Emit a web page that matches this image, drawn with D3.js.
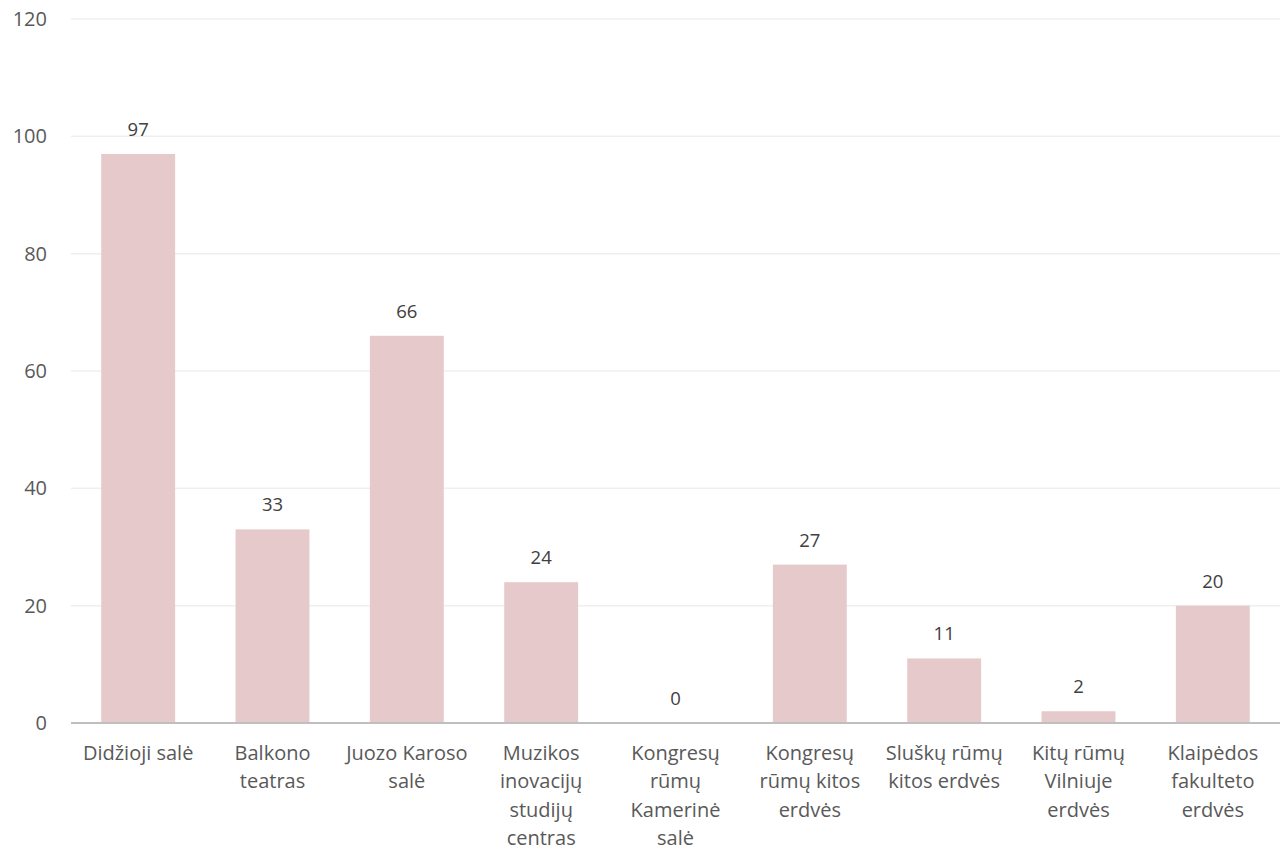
<!DOCTYPE html>
<html>
<head>
<meta charset="utf-8">
<script src="https://cdn.jsdelivr.net/npm/d3@7"></script>
<style>
  body { margin: 0; background: #fff; }
  text { font-family: "Open Sans", "Noto Sans", sans-serif; fill: #595959; }
</style>
</head>
<body>
<script>
const categories = ["Didžioji salė", "Balkono teatras", "Juozo Karoso salė", "Muzikos inovacijų studijų centras",
    "Kongresų rūmų Kamerinė salė", "Kongresų rūmų kitos erdvės", "Sluškų rūmų kitos erdvės",
    "Kitų rūmų Vilniuje erdvės", "Klaipėdos fakulteto erdvės"];
const tickLines = [
    ["Didžioji salė"],
    ["Balkono", "teatras"],
    ["Juozo Karoso", "salė"],
    ["Muzikos", "inovacijų", "studijų", "centras"],
    ["Kongresų", "rūmų", "Kamerinė", "salė"],
    ["Kongresų", "rūmų kitos", "erdvės"],
    ["Sluškų rūmų", "kitos erdvės"],
    ["Kitų rūmų", "Vilniuje", "erdvės"],
    ["Klaipėdos", "fakulteto", "erdvės"]
];
const values = [97, 33, 66, 24, 0, 27, 11, 2, 20];
const yTicks = [0, 20, 40, 60, 80, 100, 120];

const W = 1287, H = 852;
const margin = { top: 19, left: 71, right: 7, bottom: 129 };

const svg = d3.select("body").append("svg")
    .attr("width", W)
    .attr("height", H);

const x = d3.scaleBand()
    .domain(categories)
    .range([margin.left, W - margin.right])
    .paddingInner(0.45)
    .paddingOuter(0.225);

const y = d3.scaleLinear()
    .domain([0, 120])
    .range([H - margin.bottom, margin.top]);

// gridlines
svg.append("g")
    .selectAll("line")
    .data(yTicks.filter(d => d > 0))
    .enter().append("line")
    .attr("x1", margin.left)
    .attr("x2", W - margin.right)
    .attr("y1", d => y(d))
    .attr("y2", d => y(d))
    .style("stroke", "#efefef")
    .style("stroke-width", 1.5);

// y tick labels
const yAxis = svg.append("g")
    .attr("transform", "translate(" + (margin.left - 24) + ",0)")
    .call(d3.axisLeft(y).tickValues(yTicks).tickSize(0).tickPadding(0));
yAxis.select(".domain").remove();
yAxis.selectAll("text")
    .style("font-size", "20px")
    .style("fill", "#595959")
    .style("font-family", "\"Open Sans\", \"Noto Sans\", sans-serif");

// bars
svg.append("g")
    .selectAll("rect")
    .data(values)
    .enter().append("rect")
    .attr("x", (d, i) => x(categories[i]))
    .attr("width", x.bandwidth())
    .attr("y", d => y(d))
    .attr("height", d => y(0) - y(d))
    .style("fill", "#e6c9ca");

// value labels
svg.append("g")
    .selectAll("text")
    .data(values)
    .enter().append("text")
    .attr("x", (d, i) => x(categories[i]) + x.bandwidth() / 2)
    .attr("y", d => y(d) - 18)
    .attr("text-anchor", "middle")
    .style("font-size", "18.5px")
    .style("fill", "#404040")
    .text(d => d);

// x axis line
svg.append("line")
    .attr("x1", margin.left)
    .attr("x2", W - margin.right)
    .attr("y1", y(0))
    .attr("y2", y(0))
    .style("stroke", "#bfbfbf")
    .style("stroke-width", 2);

// x tick labels (wrapped)
const xl = svg.append("g")
    .selectAll("text")
    .data(tickLines)
    .enter().append("text")
    .attr("text-anchor", "middle")
    .attr("transform", (d, i) => "translate(" + (x(categories[i]) + x.bandwidth() / 2) + "," + (y(0) + 37) + ")")
    .style("font-size", "20px");
xl.selectAll("tspan")
    .data(d => d)
    .enter().append("tspan")
    .attr("x", 0)
    .attr("y", (d, i) => i * 28.3)
    .text(d => d);
</script>
</body>
</html>
